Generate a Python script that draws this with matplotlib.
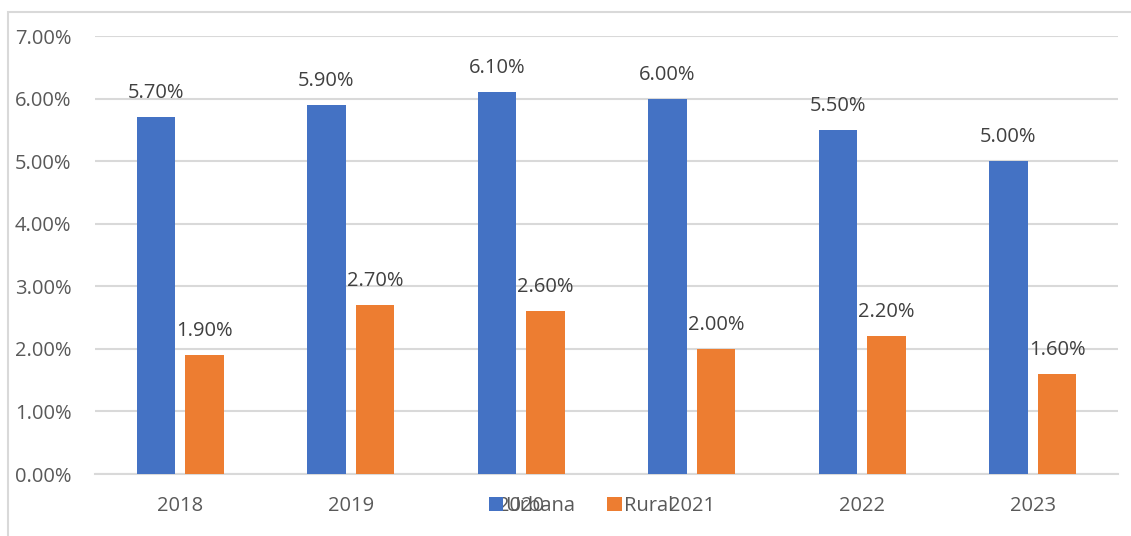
import matplotlib
matplotlib.use("Agg")
import matplotlib.pyplot as plt
from matplotlib.patches import Rectangle
import numpy as np

years = ["2018", "2019", "2020", "2021", "2022", "2023"]
urbana = [5.70, 5.90, 6.10, 6.00, 5.50, 5.00]
rural = [1.90, 2.70, 2.60, 2.00, 2.20, 1.60]
series_names = ["Urbana", "Rural"]
blue = "#4472C4"
orange = "#ED7D31"
txt = "#595959"

plt.rcParams['font.family'] = ['Open Sans', 'DejaVu Sans']

W, H = 1131, 536
fig = plt.figure(figsize=(W/100, H/100), dpi=100)
ax = fig.add_axes([95/W, 1-474/H, (1118-95)/W, (474-36)/H])

x = np.arange(len(years))
w = 0.225
off = 0.143
b1 = ax.bar(x - off, urbana, w, color=blue, label=series_names[0], zorder=3)
b2 = ax.bar(x + off, rural, w, color=orange, label=series_names[1], zorder=3)

for bars, vals in ((b1, urbana), (b2, rural)):
    for r, v in zip(bars, vals):
        ax.annotate(f"{v:.2f}%", (r.get_x() + r.get_width()/2, v),
                    xytext=(0, 10), textcoords="offset points",
                    ha="center", va="bottom", fontsize=14.5, color="#404040")

ax.set_xlim(-0.5, 5.5)
ax.set_ylim(0, 7)
ax.set_yticks(np.arange(0, 8, 1))
ax.set_yticklabels([f"{v:.2f}%" for v in range(8)])
ax.set_xticks(x)
ax.set_xticklabels(years)
ax.tick_params(axis='both', length=0, labelsize=14.5, colors=txt)
ax.tick_params(axis='y', pad=17)
ax.tick_params(axis='x', pad=16)
ax.grid(axis='y', color="#D9D9D9", linewidth=1.5, zorder=0)
for s in ["top", "right", "left"]:
    ax.spines[s].set_visible(False)
ax.spines["bottom"].set_color("#D9D9D9")
ax.spines["bottom"].set_linewidth(1.5)

fig.legend(loc="center", bbox_to_anchor=(581/W, 1-506/H), ncol=2, frameon=False,
           fontsize=14.5, labelcolor=txt, handlelength=0.7, handleheight=0.7,
           handletextpad=0.1, columnspacing=1.6)

fig.patches.append(Rectangle((8/W, -0.1), 1.2, 1-12/H + 0.1, transform=fig.transFigure,
                             fill=False, edgecolor="#D9D9D9", linewidth=1.5))

fig.savefig("out.png", dpi=100)
